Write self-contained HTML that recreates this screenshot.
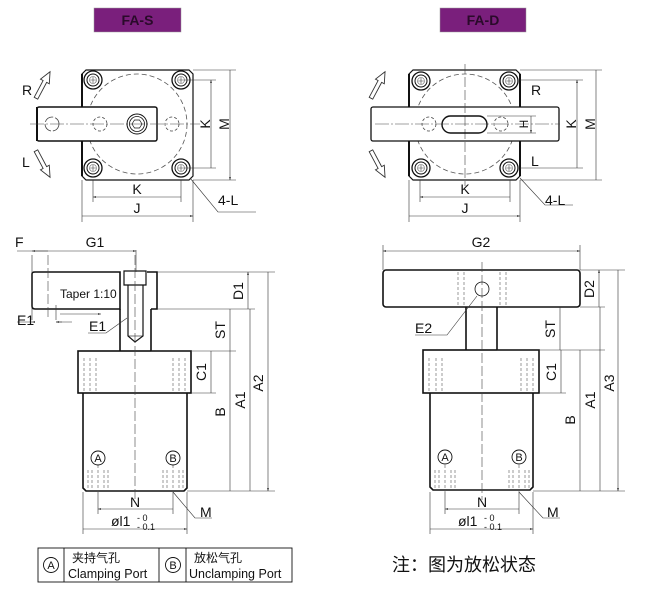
<!DOCTYPE html>
<html><head><meta charset="utf-8"><style>
html,body{margin:0;padding:0;background:#fff;}
svg{display:block;}
text{font-family:"Liberation Sans","Noto Sans CJK SC",sans-serif;fill:#111;}
</style></head><body>
<svg width="655" height="589" viewBox="0 0 655 589" xmlns="http://www.w3.org/2000/svg">
<defs>
<marker id="a" viewBox="0 0 10 10" refX="10" refY="5" markerWidth="7" markerHeight="5" orient="auto-start-reverse"><path d="M0,2 L10,5 L0,8z" fill="#222"/></marker>
<g id="arr"><polygon points="-2,15 -2,-4 -5,-4 0,-15 5,-4 2,-4 2,15" fill="#fff" stroke="#333" stroke-width="0.9"/></g>
<g id="bolt"><circle r="9" fill="none" stroke="#111" stroke-width="1.3"/><circle r="6" fill="none" stroke="#111" stroke-width="1"/><circle r="3.5" fill="none" stroke="#666" stroke-width="0.6"/><path d="M-3,0H3M0,-3V3" stroke="#444" stroke-width="0.6"/></g>
</defs>

<rect x="94" y="8" width="87" height="24" fill="#7a1f7c" stroke="#999" stroke-width="0.5"/>
<text x="137.5" y="25" font-size="14" font-weight="bold" text-anchor="middle" style="fill:#2a0a2a">FA-S</text>
<rect x="440" y="8" width="86" height="24" fill="#7a1f7c" stroke="#999" stroke-width="0.5"/>
<text x="483" y="25" font-size="14" font-weight="bold" text-anchor="middle" style="fill:#2a0a2a">FA-D</text>

<g fill="none" stroke="#111">
<path d="M86,70H189L193,74V176L189,180H86L82,176V74Z" stroke-width="1.2"/>
<path d="M82,74V107M82,141V176" stroke-width="2"/>
<circle cx="137" cy="124" r="50" stroke="#555" stroke-width="0.8" stroke-dasharray="5,3"/>
<use href="#bolt" x="93" y="80"/><use href="#bolt" x="181" y="80"/><use href="#bolt" x="93" y="168"/><use href="#bolt" x="181" y="168"/>
<rect x="37" y="107" width="120" height="34" rx="2" fill="#fff" stroke-width="1.5"/>
<path d="M37,107V141" stroke-width="2"/>
<path d="M30,124H200" stroke="#444" stroke-width="0.6" stroke-dasharray="14,2,2,2"/>
<circle cx="52" cy="124" r="7" stroke="#444" stroke-width="0.8" stroke-dasharray="10,2"/>
<circle cx="100" cy="124" r="7" stroke="#444" stroke-width="0.8" stroke-dasharray="3,2"/>
<circle cx="172" cy="124" r="7" stroke="#444" stroke-width="0.8" stroke-dasharray="3,2"/>
<circle cx="137" cy="124" r="10" stroke-width="1"/><circle cx="137" cy="124" r="7.5" stroke-width="0.8"/>
<polygon points="132,124 134.5,120 139.5,120 142,124 139.5,128 134.5,128" stroke-width="0.7"/>
<g stroke-width="0.6" stroke="#333">
<path d="M193,70H236M193,180H236M184,80H216M184,168H216"/>
<path d="M211,80V168M230,70V180" marker-start="url(#a)" marker-end="url(#a)"/>
<path d="M93,180V202M181,180V202M82,180V222M193,180V222"/>
<path d="M93,197H181M82,216H193" marker-start="url(#a)" marker-end="url(#a)"/>
<path d="M190,178L218,212H256"/>
</g>

<path d="M413,70H516L520,74V176L516,180H413L409,176V74Z" stroke-width="1.2"/>
<path d="M409,74V107M409,141V176M520,74V107M520,141V176" stroke-width="2"/>
<circle cx="465" cy="124" r="50" stroke="#555" stroke-width="0.8" stroke-dasharray="5,3"/>
<use href="#bolt" x="421" y="81"/><use href="#bolt" x="509" y="81"/><use href="#bolt" x="421" y="168"/><use href="#bolt" x="509" y="168"/>
<rect x="371" y="107" width="188" height="34" rx="2" fill="#fff" stroke-width="1.3"/>
<path d="M375,124H560" stroke="#444" stroke-width="0.6" stroke-dasharray="14,2,2,2"/>
<path d="M465,64V186" stroke="#444" stroke-width="0.6" stroke-dasharray="10,3"/>
<rect x="442" y="116" width="45" height="17" rx="8.5" stroke-width="1.4"/>
<circle cx="429" cy="124" r="7" stroke="#444" stroke-width="0.8" stroke-dasharray="3,2"/>
<circle cx="501" cy="124" r="7" stroke="#444" stroke-width="0.8" stroke-dasharray="3,2"/>
<g stroke-width="0.6" stroke="#333">
<path d="M520,70H602M520,80H583M520,168H583M520,180H602M487,116H536M487,133H536"/>
<path d="M577,80V168M596,70V180M531,116V133" marker-start="url(#a)" marker-end="url(#a)"/>
<path d="M420,180V202M510,180V202M409,180V222M520,180V222"/>
<path d="M420,197H510M409,216H520" marker-start="url(#a)" marker-end="url(#a)"/>
<path d="M520,178L545,205H573"/>
</g>

<path d="M32,274Q32,272 35,272H120V309H35Q32,309 32,306Z" stroke-width="1.6"/>
<path d="M120,309V351M151,309V351M147,272H157V309H151" stroke-width="1.6"/>
<path d="M124,271H146V285H124Z" stroke-width="1.2"/>
<path d="M128,285V336L135,342L143,336V285" stroke-width="1.2"/>
<path d="M128,336H143" stroke-width="0.6"/>
<rect x="78" y="351" width="113" height="42" stroke-width="1.6"/>
<path d="M83,393V488L86,491H184L187,488V393" stroke-width="1.6"/>
<path d="M135,255V500" stroke="#444" stroke-width="0.6" stroke-dasharray="10,3"/>
<path d="M48,255V320" stroke="#444" stroke-width="0.6" stroke-dasharray="10,3"/>
<path d="M32,255V320M56,305V320" stroke="#333" stroke-width="0.6"/>
<g stroke="#555" stroke-width="0.6" stroke-dasharray="3,2">
<path d="M84,358V392M90,358V392M96,358V392M173,358V392M179,358V392M185,358V392"/>
<path d="M88,470V490M92,470V490M104,470V490M108,470V490M163,470V490M167,470V490M179,470V490M183,470V490"/>
<path d="M98,465V492M173,465V492"/>
</g>
<circle cx="98" cy="458" r="7" stroke-width="0.9"/><circle cx="173" cy="458" r="7" stroke-width="0.9"/>
<g stroke-width="0.6" stroke="#333">
<path d="M157,272H275M157,309H255M151,351H236M191,351H236M187,491H275"/>
<path d="M248,272V309M230,309V351M211,351V393M230,351V491M250,309V491M268,272V491" marker-start="url(#a)" marker-end="url(#a)"/>
<path d="M191,393H216"/>
<path d="M17,251H136" marker-end="url(#a)"/><path d="M32,251H48" marker-start="url(#a)"/>
<path d="M136,250V272"/>
<path d="M17,322H32M56,322H72"/><path d="M32,322H34" marker-start="url(#a)"/><path d="M56,322H62" marker-start="url(#a)"/>
<path d="M60,314H101" marker-end="url(#a)"/>
<path d="M88,333H106L127,318"/>
<path d="M98,492V514M173,492V514M83,492V534M187,492V534"/>
<path d="M98,509H173M83,529H187" marker-start="url(#a)" marker-end="url(#a)"/>
<path d="M173,492L195,518H212"/>
</g>

<rect x="383" y="270" width="197" height="37" rx="3" stroke-width="1.6"/>
<path d="M466,307V350M497,307V350" stroke-width="1.6"/>
<rect x="423" y="350" width="116" height="43" stroke-width="1.6"/>
<path d="M430,393V487L433,490H530L533,487V393" stroke-width="1.6"/>
<path d="M482,262V500" stroke="#444" stroke-width="0.6" stroke-dasharray="10,3"/>
<circle cx="482" cy="289" r="7" stroke-width="0.8"/>
<g stroke="#555" stroke-width="0.6" stroke-dasharray="3,2">
<path d="M458,272V305M464,272V305M500,272V305M506,272V305"/>
<path d="M429,358V392M436,358V392M442,358V392M521,358V392M527,358V392M533,358V392"/>
<path d="M435,470V490M439,470V490M451,470V490M455,470V490M509,470V490M513,470V490M525,470V490M529,470V490"/>
<path d="M445,465V492M519,465V492"/>
</g>
<circle cx="445" cy="457" r="7" stroke-width="0.9"/><circle cx="519" cy="457" r="7" stroke-width="0.9"/>
<g stroke-width="0.6" stroke="#333">
<path d="M383,245V270M580,245V270"/>
<path d="M383,251H580" marker-start="url(#a)" marker-end="url(#a)"/>
<path d="M580,270H625M580,307H605M497,350H566M539,350H605M539,393H566M533,491H625"/>
<path d="M599,270V307M560,307V350M561,350V393M580,350V491M600,307V491M618,270V491" marker-start="url(#a)" marker-end="url(#a)"/>
<path d="M415,335H447L477,296"/>
<path d="M445,492V514M519,492V514M430,492V534M533,492V534"/>
<path d="M445,509H519M430,529H533" marker-start="url(#a)" marker-end="url(#a)"/>
<path d="M519,492L543,518H560"/>
</g>

<rect x="38" y="548" width="254" height="34" stroke-width="0.9"/>
<path d="M64,548V582M159,548V582M186,548V582" stroke-width="0.9"/>
<circle cx="51" cy="565" r="7.5" stroke-width="0.9"/><circle cx="173" cy="565" r="7.5" stroke-width="0.9"/>
</g>

<use href="#arr" transform="translate(43,85) rotate(28)"/>
<use href="#arr" transform="translate(43,164) rotate(152)"/>
<use href="#arr" transform="translate(378,85) rotate(28)"/>
<use href="#arr" transform="translate(378,164) rotate(152)"/>

<g font-size="14">
<text x="22" y="95">R</text><text x="22" y="167">L</text>
<text x="210" y="124" transform="rotate(-90 210 124)" text-anchor="middle">K</text>
<text x="229" y="124" transform="rotate(-90 229 124)" text-anchor="middle">M</text>
<text x="137" y="194" text-anchor="middle">K</text>
<text x="137" y="213" text-anchor="middle">J</text>
<text x="218" y="205">4-L</text>

<text x="531" y="95">R</text><text x="531" y="166">L</text>
<text x="576" y="124" transform="rotate(-90 576 124)" text-anchor="middle">K</text>
<text x="595" y="124" transform="rotate(-90 595 124)" text-anchor="middle">M</text>
<text x="528" y="124" transform="rotate(-90 528 124)" text-anchor="middle" font-size="12">H</text>
<text x="465" y="194" text-anchor="middle">K</text>
<text x="465" y="213" text-anchor="middle">J</text>
<text x="545" y="205">4-L</text>

<text x="15" y="247">F</text>
<text x="95" y="247" text-anchor="middle">G1</text>
<text x="60" y="298" font-size="12">Taper 1:10</text>
<text x="17" y="325">E1</text>
<text x="89" y="331">E1</text>
<text x="243" y="291" transform="rotate(-90 243 291)" text-anchor="middle">D1</text>
<text x="225" y="330" transform="rotate(-90 225 330)" text-anchor="middle">ST</text>
<text x="206" y="372" transform="rotate(-90 206 372)" text-anchor="middle">C1</text>
<text x="225" y="412" transform="rotate(-90 225 412)" text-anchor="middle">B</text>
<text x="245" y="400" transform="rotate(-90 245 400)" text-anchor="middle">A1</text>
<text x="263" y="383" transform="rotate(-90 263 383)" text-anchor="middle">A2</text>
<text x="98" y="462" text-anchor="middle" font-size="11">A</text>
<text x="173" y="462" text-anchor="middle" font-size="11">B</text>
<text x="135" y="507" text-anchor="middle">N</text>
<text x="111" y="526">øl1</text><text x="137" y="521" font-size="9">- 0</text><text x="137" y="530" font-size="9">- 0.1</text>
<text x="200" y="517">M</text>

<text x="481" y="247" text-anchor="middle">G2</text>
<text x="594" y="289" transform="rotate(-90 594 289)" text-anchor="middle">D2</text>
<text x="555" y="329" transform="rotate(-90 555 329)" text-anchor="middle">ST</text>
<text x="556" y="372" transform="rotate(-90 556 372)" text-anchor="middle">C1</text>
<text x="575" y="420" transform="rotate(-90 575 420)" text-anchor="middle">B</text>
<text x="595" y="400" transform="rotate(-90 595 400)" text-anchor="middle">A1</text>
<text x="614" y="383" transform="rotate(-90 614 383)" text-anchor="middle">A3</text>
<text x="415" y="333">E2</text>
<text x="445" y="461" text-anchor="middle" font-size="11">A</text>
<text x="519" y="461" text-anchor="middle" font-size="11">B</text>
<text x="482" y="507" text-anchor="middle">N</text>
<text x="458" y="526">øl1</text><text x="484" y="521" font-size="9">- 0</text><text x="484" y="530" font-size="9">- 0.1</text>
<text x="547" y="517">M</text>
</g>

<g font-size="11">
<text x="51" y="569" text-anchor="middle" font-size="11">A</text>
<text x="173" y="569" text-anchor="middle" font-size="11">B</text>
<text x="72" y="562" font-size="12">夹持气孔</text>
<text x="68" y="578" font-size="12.5">Clamping Port</text>
<text x="194" y="562" font-size="12">放松气孔</text>
<text x="189" y="578" font-size="12.5">Unclamping Port</text>
</g>
<text x="392" y="571" font-size="18">注：图为放松状态</text>
</svg>
</body></html>
